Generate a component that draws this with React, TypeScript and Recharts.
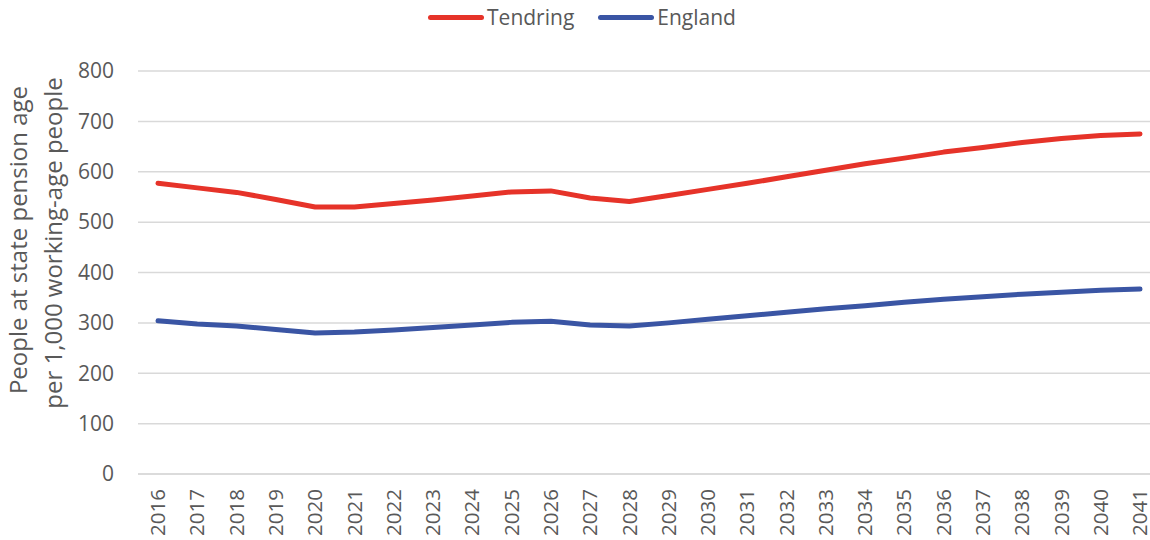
import { LineChart, Line, XAxis, YAxis, CartesianGrid } from "recharts";

const years = [
  "2016", "2017", "2018", "2019", "2020", "2021", "2022", "2023", "2024",
  "2025", "2026", "2027", "2028", "2029", "2030", "2031", "2032", "2033",
  "2034", "2035", "2036", "2037", "2038", "2039", "2040", "2041",
];
const tendring = [
  577, 568, 559, 545, 530, 530, 537, 544, 552, 560, 562, 548, 541,
  553, 565, 577, 590, 603, 616, 627, 639, 648, 658, 666, 672, 675,
];
const england = [
  304, 298, 294, 287, 280, 282, 286, 291, 296, 301, 303, 296, 294,
  300, 307, 314, 321, 328, 334, 341, 347, 352, 357, 361, 365, 367,
];
const yTicks = [0, 100, 200, 300, 400, 500, 600, 700, 800];

const data = years.map((year, i) => ({
  year,
  tendring: tendring[i],
  england: england[i],
}));

const FONT = "'Open Sans', sans-serif";
const TEXT = "#595959";
const RED = "#e63329";
const BLUE = "#3a55a4";

const XTick = (props: any) => {
  const { x, payload } = props;
  return (
    <text
      x={x}
      y={489}
      transform={`rotate(-90, ${x}, 489)`}
      textAnchor="end"
      dy="0.35em"
      fill={TEXT}
      fontSize={20.5}
      fontFamily={FONT}
    >
      {payload.value}
    </text>
  );
};

const YTick = (props: any) => {
  const { y, payload } = props;
  return (
    <text x={114} y={y} textAnchor="end" dy="0.35em" fill={TEXT} fontSize={21} fontFamily={FONT}>
      {payload.value}
    </text>
  );
};

// two-line rotated axis title, baselines on the right side
const YLabel = () => (
  <g fill={TEXT} fontSize={24} fontFamily={FONT}>
    <text x={27} y={240} transform="rotate(-90, 27, 240)" textAnchor="middle">
      People at state pension age
    </text>
    <text x={62} y={243} transform="rotate(-90, 62, 243)" textAnchor="middle">
      per 1,000 working-age people
    </text>
  </g>
);

const legendItems = [
  { name: "Tendring", color: RED },
  { name: "England", color: BLUE },
];

export default function App() {
  return (
    <div style={{ position: "fixed", top: 0, left: 0, width: 1150, height: 540, overflow: "hidden", background: "#fff" }}>
      <div
        style={{
          position: "absolute",
          top: 3,
          left: 0,
          width: 1164,
          display: "flex",
          justifyContent: "center",
          gap: 24,
          fontFamily: FONT,
          fontSize: 21,
          color: TEXT,
        }}
      >
        {legendItems.map((it) => (
          <div key={it.name} style={{ display: "flex", alignItems: "center" }}>
            <span
              style={{
                display: "inline-block",
                width: 56,
                height: 5,
                borderRadius: 3,
                background: it.color,
                marginRight: 3,
              }}
            />
            {it.name}
          </div>
        ))}
      </div>
      <LineChart width={1150} height={540} data={data} margin={{ top: 71, right: 0, bottom: 0, left: 0 }}>
        <CartesianGrid vertical={false} stroke="#d9d9d9" strokeWidth={1.5} />
        <XAxis
          dataKey="year"
          interval={0}
          height={66}
          padding={{ left: 20, right: 10 }}
          axisLine={{ stroke: "#d9d9d9", strokeWidth: 1.5 }}
          tickLine={false}
          tick={<XTick />}
        />
        <YAxis
          width={138}
          domain={[0, 800]}
          ticks={yTicks}
          axisLine={false}
          tickLine={false}
          tick={<YTick />}
          label={{ content: () => <YLabel /> }}
        />
        <Line
          dataKey="tendring"
          name="Tendring"
          stroke={RED}
          strokeWidth={5}
          strokeLinecap="round"
          strokeLinejoin="round"
          dot={false}
          isAnimationActive={false}
        />
        <Line
          dataKey="england"
          name="England"
          stroke={BLUE}
          strokeWidth={5}
          strokeLinecap="round"
          strokeLinejoin="round"
          dot={false}
          isAnimationActive={false}
        />
      </LineChart>
    </div>
  );
}
